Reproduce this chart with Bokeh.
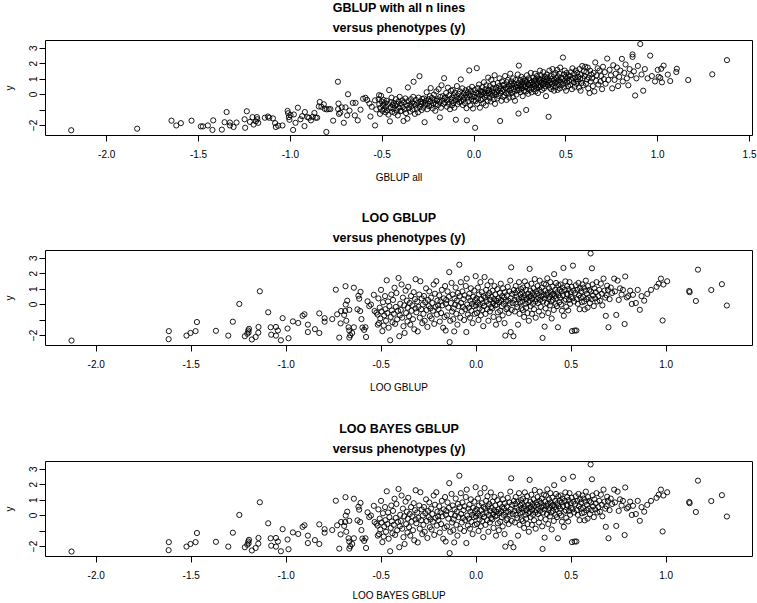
from bokeh.plotting import figure
from bokeh.layouts import column
from bokeh.models import Range1d, FixedTicker, PrintfTickFormatter, Title, LinearAxis
from bokeh.embed import file_html
from bokeh.resources import INLINE

# ---------------- Panel 1: GBLUP with all n lines (x) vs phenotype y ----------------
gblup_all_x = [
    -2.193, -1.834, -1.647, -1.621, -1.596, -1.538, -1.487, -1.476, -1.449, -1.424,
    -1.420, -1.373, -1.358, -1.347, -1.329, -1.329, -1.309, -1.293, -1.249, -1.246,
    -1.237, -1.220, -1.206, -1.200, -1.188, -1.182, -1.180, -1.175, -1.139, -1.122,
    -1.115, -1.095, -1.083, -1.079, -1.066, -1.043, -1.015, -1.012, -1.008, -1.005,
    -0.999, -0.985, -0.981, -0.972, -0.959, -0.945, -0.936, -0.923, -0.921, -0.907,
    -0.898, -0.888, -0.878, -0.869, -0.862, -0.854, -0.845, -0.840, -0.831, -0.818,
    -0.813, -0.804, -0.802, -0.791, -0.782, -0.767, -0.741, -0.740, -0.738, -0.735,
    -0.728, -0.720, -0.709, -0.700, -0.691, -0.686, -0.678, -0.660, -0.649, -0.645,
    -0.633, -0.618, -0.604, -0.591, -0.582, -0.569, -0.564, -0.557, -0.539, -0.539,
    -0.532, -0.517,
    -0.519, -0.516, -0.512, -0.510, -0.506, -0.503, -0.499, -0.496, -0.492, -0.489, -0.486, -0.482,
    -0.479, -0.476, -0.473, -0.469, -0.466, -0.462, -0.458, -0.455, -0.452, -0.449, -0.446, -0.442,
    -0.439, -0.436, -0.432, -0.429, -0.425, -0.422, -0.418, -0.415, -0.411, -0.408, -0.405, -0.401,
    -0.398, -0.395, -0.391, -0.388, -0.384, -0.381, -0.377, -0.374, -0.370, -0.367, -0.363, -0.360,
    -0.358, -0.355, -0.351, -0.348, -0.344, -0.341, -0.337, -0.334, -0.331, -0.329, -0.325, -0.322,
    -0.319, -0.316, -0.312, -0.309, -0.305, -0.302, -0.297, -0.295, -0.291, -0.288, -0.285, -0.282,
    -0.279, -0.276, -0.272, -0.269, -0.266, -0.262, -0.258, -0.255, -0.251, -0.248, -0.245, -0.241,
    -0.239, -0.236, -0.232, -0.229, -0.225, -0.222, -0.218, -0.215, -0.211, -0.208, -0.205, -0.202,
    -0.199, -0.196, -0.193, -0.189, -0.186, -0.184, -0.180, -0.177, -0.173, -0.170, -0.166, -0.163, -0.161,
    -0.158, -0.155, -0.152, -0.148, -0.145, -0.142, -0.138, -0.135, -0.131, -0.128, -0.125, -0.122, -0.120,
    -0.119, -0.116, -0.113, -0.110, -0.107, -0.104, -0.101, -0.099, -0.096, -0.093, -0.090, -0.087, -0.084, -0.081,
    -0.079, -0.076, -0.072, -0.070, -0.067, -0.064, -0.061, -0.058, -0.055, -0.052, -0.049, -0.046, -0.043, -0.041,
    -0.039, -0.037, -0.034, -0.031, -0.028, -0.026, -0.023, -0.020, -0.017, -0.014, -0.011, -0.009, -0.006, -0.004, -0.002,
    0.002, 0.004, 0.006, 0.009, 0.012, 0.015, 0.017, 0.020, 0.022, 0.025, 0.027, 0.030, 0.032, 0.035, 0.037, 0.039,
    0.041, 0.044, 0.046, 0.049, 0.051, 0.054, 0.057, 0.059, 0.062, 0.064, 0.067, 0.069, 0.072, 0.074, 0.077, 0.079,
    0.081, 0.084, 0.086, 0.089, 0.091, 0.094, 0.097, 0.099, 0.102, 0.104, 0.107, 0.109, 0.112, 0.114, 0.117, 0.119,
    0.121, 0.124, 0.126, 0.129, 0.131, 0.134, 0.137, 0.139, 0.142, 0.144, 0.147, 0.149, 0.152, 0.154, 0.157, 0.159,
    0.161, 0.164, 0.166, 0.169, 0.171, 0.174, 0.177, 0.179, 0.182, 0.184, 0.187, 0.189, 0.192, 0.194, 0.197, 0.199,
    0.201, 0.203, 0.206, 0.208, 0.211, 0.213, 0.216, 0.218, 0.221, 0.223, 0.226, 0.228, 0.231, 0.233, 0.236, 0.238, 0.239,
    0.241, 0.242, 0.244, 0.246, 0.248, 0.251, 0.253, 0.255, 0.258, 0.260, 0.262, 0.265, 0.267, 0.269, 0.272, 0.274, 0.276, 0.279,
    0.281, 0.283, 0.284, 0.286, 0.288, 0.291, 0.293, 0.295, 0.297, 0.300, 0.302, 0.304, 0.307, 0.309, 0.311, 0.314, 0.316, 0.318,
    0.321, 0.323, 0.325, 0.327, 0.330, 0.332, 0.334, 0.336, 0.339, 0.341, 0.343, 0.345, 0.348, 0.350, 0.352, 0.354, 0.357, 0.359,
    0.361, 0.363, 0.365, 0.368, 0.370, 0.372, 0.374, 0.377, 0.379, 0.381, 0.383, 0.386, 0.388, 0.390, 0.392, 0.395, 0.397, 0.399,
    0.401, 0.403, 0.406, 0.408, 0.410, 0.413, 0.415, 0.417, 0.420, 0.422, 0.424, 0.427, 0.429, 0.431, 0.434, 0.436, 0.438,
    0.441, 0.443, 0.446, 0.448, 0.450, 0.453, 0.455, 0.457, 0.460, 0.462, 0.465, 0.467, 0.469, 0.472, 0.474, 0.477,
    0.481, 0.484, 0.486, 0.489, 0.491, 0.494, 0.496, 0.499, 0.501, 0.504, 0.507, 0.509, 0.512, 0.514, 0.517,
    0.521, 0.524, 0.527, 0.530, 0.533, 0.536, 0.539, 0.542, 0.545, 0.548, 0.551, 0.554, 0.557, 0.559,
    0.562, 0.565, 0.568, 0.571, 0.574, 0.577, 0.580, 0.583, 0.586, 0.589, 0.592, 0.595, 0.598,
    0.602, 0.605, 0.609, 0.612, 0.615, 0.619, 0.622, 0.625, 0.629, 0.632, 0.635, 0.638,
    0.643, 0.647, 0.651, 0.655, 0.660, 0.664, 0.668, 0.673, 0.677,
    0.683, 0.688, 0.692, 0.697, 0.702, 0.707, 0.712, 0.716,
    0.725, 0.731, 0.738, 0.745, 0.752, 0.758, 0.765, 0.771, 0.778, 0.784,
    0.790, 0.797, 0.805, 0.810, 0.818, 0.825, 0.832, 0.840, 0.847, 0.855,
    0.863, 0.863, 0.870, 0.877, 0.884, 0.892, 0.905, 0.912, 0.921, 0.930,
    0.945, 0.959, 0.968, 0.985, 1.000, 1.005, 1.014, 1.019, 1.023, 1.032,
    1.055, 1.068, 1.101, 1.104, 1.166, 1.297, 1.377]
gblup_all_y = [
    -2.31, -2.21, -1.69, -2.00, -1.85, -1.69, -2.06, -2.06, -2.00, -2.29,
    -1.67, -2.27, -1.79, -1.13, -1.81, -2.00, -2.10, -1.81, -1.60, -2.15,
    -1.08, -1.77, -1.46, -1.94, -1.73, -1.46, -1.60, -1.83, -1.50, -1.42,
    -1.50, -1.54, -1.85, -2.10, -2.02, -2.00, -1.06, -1.21, -1.46, -1.63,
    -1.33, -2.29, -1.29, -1.83, -0.85, -1.60, -1.40, -2.04, -1.13, -1.46,
    -1.50, -1.67, -1.44, -1.19, -1.50, -1.50, -0.77, -0.48, -0.79, -0.63,
    -0.92, -2.42, -0.96, -0.94, -0.94, -1.69, 0.83, -0.94, -0.58, -1.25,
    -1.17, -0.83, -1.83, -0.83, -1.35, 0.02, -1.04, -0.54, -1.35, -0.54,
    -1.67, -0.98, -0.27, -0.21, -0.35, -0.58, -1.42, -0.79, -0.375, -2.00,
    -0.96, -0.04,
    -0.30, -0.62, -1.25, -0.85, -0.08, -0.45, -1.05, -0.70, -0.35, -0.95, -0.55, -1.15,
    -0.78, -0.40, -1.02, -0.60, -1.30, 0.29, -1.73, -0.88, -0.50, -0.20, -1.12, -0.68,
    -0.92, -0.55, -1.18, -0.72, -0.30, -1.00, -0.62, -1.35, -0.45, -0.85, -0.15, -1.08,
    -0.60, -1.05, -0.38, -0.82, -1.71, -0.50, -0.95, -0.25, -1.20, -0.70, -1.56, 0.46,
    -0.42, -0.88, -0.65, -1.10, -0.30, -0.75, -0.52, -0.98, -0.15, 0.83, -0.60, -1.25,
    -0.70, -0.35, -0.92, -0.55, -1.15, -0.20, 1.19, -0.80, -0.45, -0.62, -1.00, -0.28,
    -0.50, -0.85, -0.25, -1.79, -0.65, -0.40, 0.15, -0.95, -0.58, -0.30, -0.75, -0.10,
    -0.45, 0.42, -0.70, -0.22, -0.90, -0.55, 0.00, -0.35, -1.05, -0.62, 0.20, -0.40,
    -0.30, -0.68, 0.35, -0.48, -1.48, -0.15, -0.85, 0.60, -0.40, -0.10, -0.60, 1.06, -0.25,
    -0.52, -0.18, 0.10, -0.78, -0.35, 0.45, -0.60, -0.05, -0.95, -0.28, 0.25, -0.45, -0.70,
    -0.20, 0.30, -0.55, -0.05, -0.85, 0.12, -0.38, -1.63, -0.15, 0.55, -0.62, -0.30, 0.05, -0.48,
    -0.25, 0.20, 0.98, -0.45, -0.10, 0.40, -0.68, -0.32, 0.08, -0.15, -0.55, 0.28, -0.02, -0.88,
    -1.67, -0.20, 0.15, -0.45, 0.35, 1.56, -0.05, -0.70, 0.22, -0.30, 0.50, -0.12, -0.90, 0.05, -0.40,
    -0.15, 0.30, -2.15, -0.42, 0.10, 1.71, -0.60, 0.42, -0.25, 0.05, 0.65, -0.05, -0.85, 0.25, -0.35, 0.15,
    0.00, 0.48, -0.30, 0.18, -0.55, 0.80, 0.08, -0.18, 0.35, -0.70, 0.60, -0.05, 0.22, -0.40, 1.10, 0.10,
    0.30, -0.20, 0.55, 0.05, -0.45, 0.95, 0.20, -0.05, 0.40, 0.70, -0.30, 0.12, 1.25, -0.60, 0.35, 0.00,
    0.45, 0.15, -0.25, 0.75, 0.28, -0.08, 0.55, 1.05, -1.71, 0.10, 0.40, -0.40, 0.85, 0.22, 0.60, -0.15,
    0.30, 0.65, -0.05, 1.20, 0.45, 0.10, -0.35, 0.80, 0.38, 0.95, 0.05, 0.55, -0.20, 0.25, 1.35, 0.70,
    0.40, 0.85, 0.10, 0.60, -0.15, 1.05, 0.35, 0.70, 0.20, -0.40, 0.50, 0.95, 0.00, 0.62, 0.28, 1.30, 0.45,
    0.75, -1.23, 1.875, 0.30, 0.55, 0.95, 0.15, 0.65, 1.15, 0.40, 0.80, -0.10, 0.58, 1.00, 0.25, 0.72, 0.48, 0.90,
    0.55, 0.20, -1.00, 0.85, 1.25, 0.40, 0.68, 0.05, 1.05, 0.60, 0.30, 0.92, 0.75, 1.40, 0.45, 0.15, 0.82, 0.62,
    0.70, 1.10, 0.35, 0.88, 0.55, 1.35, 0.20, 0.98, 0.65, 0.42, 1.20, 0.80, 0.10, 0.60, 1.02, 0.48, 0.85, 1.55,
    0.95, 0.50, 1.25, 0.75, 0.30, 1.05, 0.62, 1.45, 0.88, 0.40, 0.70, 1.15, 0.55, 0.98, -0.10, 0.80, 1.30, 0.65,
    1.10, 0.60, -1.44, 0.90, 1.55, 0.45, 0.78, 1.20, 0.35, 1.00, 0.70, 1.65, 0.52, 0.88, 1.30, 0.25, 0.95,
    0.72, 1.40, 0.50, 1.05, 0.85, 1.60, 0.30, 1.18, 0.65, 0.95, 1.35, 0.40, 1.75, 0.80, 1.10, 0.60,
    1.00, 2.40, 0.70, 1.30, 0.45, 1.55, 0.90, 1.15, 0.25, 1.40, 0.78, 1.05, 0.55, 1.25, 0.88,
    1.20, 0.62, 1.45, 0.95, 0.35, 1.70, 1.05, 0.80, 1.35, 0.50, 1.10, 1.55, 0.70, 0.98,
    1.40, 0.85, 1.15, 0.45, 1.65, 1.00, 0.25, 1.30, 0.75, 1.85, 1.05, 0.60, 1.50,
    1.20, 1.80, 0.70, 1.45, 0.98, 1.75, 0.40, 1.10, 0.10, 1.55, 0.85, 1.30,
    1.05, 0.55, 1.40, 0.20, 2.08, 0.90, 1.25, 1.70, 0.65,
    1.55, 0.85, 1.20, 0.35, 1.80, 1.00, 1.45, 0.70,
    2.33, 0.95, 1.60, 1.25, 0.40, 1.90, 0.95, 1.35, 1.75, 0.55,
    1.15, 1.55, 2.31, 0.85, 1.40, 1.95, 1.05, 0.60, 1.65, 1.25,
    2.60, 2.44, 1.50, -0.06, 1.05, 1.85, 3.27, 1.30, 0.25, 1.65,
    1.05, 2.52, 1.20, 0.85, 1.60, 1.15, 1.08, 1.67, 0.79, 1.875,
    1.29, 0.875, 1.46, 1.67, 0.94, 1.31, 2.23]

# ---------------- Panel 2: LOO GBLUP (x) vs phenotype y ----------------
loo_x = [
    -2.130, -1.618, -1.619, -1.525, -1.504, -1.477, -1.470, -1.370, -1.305, -1.281,
    -1.247, -1.218, -1.205, -1.200, -1.198, -1.196, -1.181, -1.161, -1.147, -1.146,
    -1.139, -1.095, -1.082, -1.079, -1.054, -1.054, -1.044, -1.028, -1.019, -0.993,
    -0.988, -0.965, -0.937, -0.914, -0.904, -0.886, -0.886, -0.849, -0.826, -0.826,
    -0.798, -0.798, -0.758, -0.739, -0.732, -0.721, -0.714, -0.711, -0.695, -0.690,
    -0.687, -0.684, -0.688, -0.679, -0.672, -0.668, -0.668, -0.663, -0.668, -0.653,
    -0.644, -0.644, -0.625, -0.620, -0.616, -0.611, -0.604, -0.599, -0.590, -0.609,
    -0.583, -0.580, -0.572, -0.563, -0.554, -0.539, -0.535, -0.525, -0.518,
    -0.519, -0.515, -0.512, -0.508, -0.505, -0.501, -0.498, -0.494, -0.491, -0.487, -0.484, -0.480,
    -0.478, -0.475, -0.471, -0.468, -0.464, -0.461, -0.457, -0.453, -0.450, -0.447, -0.444, -0.441,
    -0.438, -0.434, -0.430, -0.427, -0.423, -0.420, -0.416, -0.412, -0.409, -0.405, -0.402, -0.400,
    -0.397, -0.393, -0.390, -0.386, -0.383, -0.379, -0.377, -0.372, -0.369, -0.365, -0.362, -0.361,
    -0.358, -0.354, -0.350, -0.347, -0.343, -0.340, -0.336, -0.333, -0.329, -0.326, -0.322, -0.320,
    -0.319, -0.315, -0.311, -0.308, -0.304, -0.300, -0.297, -0.294, -0.290, -0.287, -0.284, -0.281,
    -0.278, -0.275, -0.271, -0.268, -0.264, -0.261, -0.257, -0.254, -0.250, -0.247, -0.244, -0.241,
    -0.238, -0.235, -0.231, -0.228, -0.224, -0.221, -0.217, -0.214, -0.210, -0.207, -0.204, -0.201,
    -0.199, -0.195, -0.192, -0.188, -0.185, -0.181, -0.178, -0.174, -0.171, -0.167, -0.164, -0.161, -0.160,
    -0.158, -0.154, -0.151, -0.147, -0.144, -0.142, -0.140, -0.137, -0.133, -0.130, -0.127, -0.124, -0.121,
    -0.119, -0.116, -0.114, -0.111, -0.108, -0.105, -0.102, -0.099, -0.096, -0.093, -0.089, -0.087, -0.084, -0.081,
    -0.079, -0.076, -0.073, -0.070, -0.067, -0.064, -0.061, -0.058, -0.055, -0.052, -0.050, -0.047, -0.044, -0.041,
    -0.039, -0.036, -0.033, -0.031, -0.028, -0.025, -0.022, -0.019, -0.016, -0.013, -0.010, -0.008, -0.005, -0.003, -0.001,
    0.002, 0.004, 0.007, 0.009, 0.012, 0.014, 0.017, 0.019, 0.022, 0.024, 0.027, 0.029, 0.032, 0.034, 0.037, 0.039,
    0.041, 0.044, 0.047, 0.049, 0.052, 0.054, 0.057, 0.059, 0.062, 0.064, 0.067, 0.069, 0.072, 0.074, 0.077, 0.079,
    0.081, 0.084, 0.086, 0.089, 0.091, 0.094, 0.096, 0.099, 0.101, 0.104, 0.106, 0.109, 0.111, 0.114, 0.116, 0.119,
    0.121, 0.124, 0.126, 0.129, 0.131, 0.134, 0.136, 0.139, 0.141, 0.144, 0.146, 0.149, 0.151, 0.153, 0.156, 0.159,
    0.161, 0.164, 0.166, 0.169, 0.171, 0.174, 0.176, 0.179, 0.181, 0.182, 0.184, 0.187, 0.189, 0.192, 0.196, 0.199,
    0.201, 0.203, 0.206, 0.208, 0.211, 0.213, 0.216, 0.218, 0.220, 0.223, 0.225, 0.228, 0.230, 0.233, 0.235, 0.237, 0.239,
    0.241, 0.243, 0.245, 0.247, 0.250, 0.252, 0.254, 0.256, 0.259, 0.261, 0.263, 0.265, 0.268, 0.270, 0.272, 0.274, 0.277, 0.279,
    0.281, 0.282, 0.284, 0.286, 0.288, 0.290, 0.293, 0.295, 0.297, 0.299, 0.302, 0.304, 0.306, 0.308, 0.311, 0.313, 0.315, 0.318,
    0.321, 0.323, 0.325, 0.327, 0.330, 0.332, 0.334, 0.336, 0.339, 0.341, 0.343, 0.345, 0.347, 0.349, 0.352, 0.355, 0.357, 0.360,
    0.361, 0.363, 0.365, 0.367, 0.370, 0.372, 0.374, 0.376, 0.379, 0.381, 0.383, 0.385, 0.388, 0.390, 0.392, 0.394, 0.397, 0.399,
    0.401, 0.403, 0.406, 0.408, 0.410, 0.413, 0.415, 0.418, 0.420, 0.422, 0.425, 0.427, 0.430, 0.432, 0.434, 0.437, 0.439,
    0.441, 0.444, 0.446, 0.449, 0.451, 0.454, 0.456, 0.459, 0.461, 0.464, 0.466, 0.469, 0.471, 0.474, 0.476, 0.479,
    0.481, 0.484, 0.486, 0.489, 0.491, 0.494, 0.497, 0.499, 0.502, 0.504, 0.507, 0.509, 0.512, 0.515, 0.518,
    0.521, 0.524, 0.527, 0.530, 0.532, 0.535, 0.538, 0.541, 0.544, 0.547, 0.550, 0.553, 0.556, 0.559,
    0.562, 0.565, 0.568, 0.571, 0.574, 0.577, 0.580, 0.583, 0.586, 0.589, 0.592, 0.595, 0.598,
    0.602, 0.604, 0.607, 0.609, 0.612, 0.615, 0.619, 0.622, 0.626, 0.629, 0.633, 0.637,
    0.643, 0.647, 0.651, 0.656, 0.660, 0.664, 0.670, 0.675, 0.679,
    0.682, 0.686, 0.689, 0.693, 0.696, 0.702, 0.708, 0.715,
    0.726, 0.730, 0.737, 0.744, 0.750, 0.757, 0.765, 0.772, 0.781, 0.784,
    0.793, 0.800, 0.810, 0.819, 0.825, 0.840, 0.850, 0.861, 0.870, 0.884,
    0.900, 0.920, 0.949, 0.960, 0.972, 0.981, 0.985, 1.005, 1.121, 1.123,
    1.156, 1.167, 1.237, 1.293, 1.319]
loo_y = [
    -2.33, -1.72, -2.24, -2.01, -1.84, -1.72, -1.13, -1.70, -2.01, -1.11,
    0.04, -2.05, -1.89, -1.68, -1.80, -1.57, -2.26, -2.10, -1.82, -1.45,
    0.86, -0.50, -1.47, -1.95, -1.45, -2.01, -1.68, -2.31, -0.88, -1.55,
    -2.18, -1.09, -1.19, -0.73, -0.63, -1.30, -1.78, -1.59, -0.57, -1.84,
    -0.88, -1.11, -0.94, 0.96, -0.63, -2.14, -1.22, -0.42, -0.67, -0.42,
    0.00, -1.05, 1.19, 0.25, -1.47, -1.68, -0.34, -1.99, -2.14, -1.84,
    1.09, -1.47, -0.31, 0.57, 0.38, -0.42, -0.94, -1.49, -1.64, 0.82,
    -1.47, -2.10, 0.21, -0.10, 0.00, 0.63, -0.42, -0.52, -1.30,
    -0.65, 0.40, -1.20, -0.20, -0.90, 0.95, -0.45, -1.72, 0.15, -1.36, -0.70, 0.55,
    -0.30, -1.05, 1.57, -0.55, 0.20, -1.50, -0.10, -2.31, -0.80, 0.65, -0.38, -1.15,
    0.30, -0.60, 1.09, -1.25, -0.15, 0.75, -0.95, -0.40, 1.72, -2.05, -0.70, 0.05,
    -0.35, 1.30, -0.85, 0.45, -1.40, -0.05, -1.84, 0.90, -0.55, 0.25, -1.10, -0.20,
    1.15, -0.75, 0.10, -1.30, 0.55, -0.40, -0.05, -0.95, 0.80, -1.60, 0.35, -0.25,
    1.64, -0.50, 0.20, -1.74, -0.15, 0.65, -0.85, 1.51, -0.30, 0.40, -1.20, 0.00,
    -0.60, 0.55, -1.05, 0.15, 1.05, -0.35, -1.45, 0.30, -0.10, 0.85, -0.75, -0.25,
    0.45, -0.90, 0.10, -0.40, 1.30, -1.25, 0.70, -0.15, 1.51, -0.65, 0.25, -0.05,
    -0.30, 0.60, -1.10, 0.20, -0.55, 0.95, -0.05, -1.50, 0.40, -0.80, 1.20, -1.68, 0.05,
    0.30, -0.70, 0.85, -0.20, 0.50, 2.10, -2.43, -1.05, 0.10, 1.40, -0.45, 0.65, -0.95,
    -0.25, -1.74, 0.40, 0.00, 1.10, -0.60, 0.25, -1.30, 0.75, -0.10, 2.58, 0.55, -0.85, 1.45,
    0.10, -0.45, 0.85, -0.15, 0.35, -1.00, 0.60, -0.30, 1.20, -1.78, 1.68, 0.00, -0.65, 0.45,
    -0.20, 0.70, -0.85, 0.25, 1.05, -0.40, 0.05, -1.20, 0.50, -0.10, 0.90, -0.60, 0.30, 1.84, -0.05,
    0.40, -0.55, 0.15, 1.10, -1.00, 0.65, -0.25, 0.00, 1.45, -0.70, 0.35, 0.80, -0.35, 0.10, -1.40, 0.55,
    -0.10, 1.78, 0.45, -0.60, 0.95, 0.20, -0.30, 1.25, 0.60, -1.05, 0.05, 0.75, -0.45, 0.30, 1.50, -0.15,
    0.50, -0.25, 0.90, 0.10, -0.80, 0.35, 1.20, -0.05, 0.65, -1.30, 0.25, 0.00, 1.00, -0.50, 0.40, -0.95,
    0.15, 0.75, -0.40, 1.35, 0.30, -0.10, 0.55, -0.70, 1.05, 0.05, 0.45, -1.20, 0.80, -2.01, 0.20, -0.30,
    0.60, -0.20, 1.15, 0.25, -0.55, 0.85, 0.05, 1.55, -1.78, 0.40, 2.41, -0.35, 0.70, 0.10, -2.05, 0.95,
    0.30, -0.45, 0.75, 1.20, 0.05, 0.50, -0.15, 0.90, -1.30, 0.35, 1.45, -0.60, 0.15, 0.65, 1.00, -0.25, 0.45,
    0.80, 0.20, -0.35, 1.10, 0.45, -0.80, 0.60, 1.50, 0.05, 0.95, -0.20, 0.35, 1.25, -0.55, 0.70, 0.15, -1.05, 0.50,
    2.31, 0.25, 0.90, -0.10, 0.55, 1.35, -0.60, 0.40, 0.75, 0.05, 1.05, -0.30, 0.60, 1.65, 0.20, -0.85, 0.85, 0.35,
    0.70, 1.20, 0.10, 0.45, -0.45, 0.95, 1.55, 0.30, -0.15, 0.80, 0.55, 1.10, -0.70, -2.16, 0.20, 0.65, 1.35, -1.43,
    0.40, 0.90, -0.25, 1.30, 0.60, 0.10, 1.70, 0.75, -0.55, 0.35, 1.05, 0.50, -0.05, 1.45, 0.85, 0.20, -0.90, 0.65,
    1.15, 0.30, 0.70, -0.35, 1.97, 0.55, 0.95, 0.05, 1.40, 0.40, -0.10, 0.80, -1.47, 1.25, 0.60, 0.15, 0.95,
    0.45, 1.30, 0.00, 0.85, -0.40, 1.10, 0.60, 2.37, -0.73, 0.25, 0.95, 1.50, 0.35, -0.15, 0.70, 1.20,
    0.65, -0.38, 1.00, 0.30, 1.45, 0.05, 0.80, 0.50, 1.15, -1.72, 0.40, 2.52, 0.90, 0.20, -1.68,
    0.75, 1.25, -1.68, 0.35, 0.95, 0.05, 1.40, 0.60, -0.30, 1.05, 0.45, 0.85, 0.15, 1.30,
    0.50, 1.10, 0.20, -0.31, 0.90, 1.55, 0.35, 0.70, -0.20, 1.20, 0.45, 0.95, 0.10,
    3.31, 0.85, 0.35, 2.35, 1.30, 0.60, -0.10, 1.05, 0.40, 0.80, 1.45, 0.20,
    0.55, 0.95, 0.25, 1.35, 0.70, -0.05, 1.68, 0.90, 0.45,
    -0.73, 0.60, 1.22, 0.95, -1.47, 0.35, 1.10, 0.75,
    1.68, 0.85, -0.67, 1.55, 0.30, 1.05, 0.65, 0.95, -1.26, 1.82,
    0.46, 0.55, 0.90, 0.04, 0.63, 0.10, 0.95, -0.34, 0.55, 0.25,
    0.69, 0.95, 1.15, 1.35, 1.68, -1.03, 1.30, 1.51, 0.88, 0.80,
    0.23, 2.26, 0.94, 1.32, -0.06]

# ---------------- Panel 3: LOO BAYES GBLUP (x) vs phenotype y ----------------
bayes_x = list(loo_x)
bayes_y = list(loo_y)

FONT = "Liberation Sans"
Y_TICKS = [-2, -1, 0, 1, 2, 3]
X_TICKS = [-2.0, -1.5, -1.0, -0.5, 0.0, 0.5, 1.0, 1.5]
Y_RANGE = (-2.65, 3.5)


def style_axis(ax):
    ax.axis_line_color = None
    ax.major_tick_line_color = "black"
    ax.major_tick_out = 6
    ax.major_tick_in = 0
    ax.minor_tick_line_color = None
    ax.major_label_text_font = FONT
    ax.major_label_text_font_size = "10px"
    ax.major_label_text_color = "black"
    ax.axis_label_text_font = FONT
    ax.axis_label_text_font_size = "10px"
    ax.axis_label_text_font_style = "normal"
    ax.axis_label_text_color = "black"


def panel(xs, ys, xr, main, xlabel, height, bottom, lab_standoff, axlab_standoff):
    n = min(len(xs), len(ys))
    p = figure(width=757, height=height, title=None,
               x_range=Range1d(*xr), y_range=Range1d(*Y_RANGE),
               output_backend="svg", toolbar_location=None,
               x_axis_location=None, y_axis_location=None,
               min_border_left=45, min_border_right=5,
               min_border_top=37, min_border_bottom=bottom)

    # bottom x axis
    xax = LinearAxis(ticker=FixedTicker(ticks=X_TICKS),
                     formatter=PrintfTickFormatter(format="%.1f"))
    style_axis(xax)
    xax.axis_label = xlabel
    xax.major_label_standoff = lab_standoff
    xax.axis_label_standoff = axlab_standoff
    p.add_layout(xax, "below")

    # left y axis
    yax = LinearAxis(ticker=FixedTicker(ticks=Y_TICKS))
    style_axis(yax)
    yax.major_label_overrides = {-1: ""}
    yax.major_label_orientation = "vertical"
    yax.axis_label = "y"
    yax.major_label_standoff = 2
    yax.axis_label_standoff = 12
    p.add_layout(yax, "left")

    # two-line bold title (first added sits closest to the frame)
    p.add_layout(Title(text="versus phenotypes (y)", align="center", text_font=FONT,
                       text_font_size="12.5px", text_font_style="bold",
                       text_color="black", text_line_height=1.0,
                       vertical_align="top", standoff=8), "above")
    p.add_layout(Title(text=main, align="center", text_font=FONT,
                       text_font_size="12.5px", text_font_style="bold",
                       text_color="black", text_line_height=1.0,
                       vertical_align="top", standoff=0), "above")

    p.scatter(xs[:n], ys[:n], marker="circle", size=5.2, fill_color=None,
              line_color="black", line_width=0.9)
    p.grid.visible = False
    p.outline_line_color = "black"
    p.outline_line_width = 1
    p.background_fill_color = "white"
    p.border_fill_color = "white"
    return p


p1 = panel(gblup_all_x, gblup_all_y, (-2.333, 1.516), "GBLUP with all n lines", "GBLUP all",
           210, 75, 8, 11)
p2 = panel(loo_x, loo_y, (-2.267, 1.454), "LOO GBLUP", "LOO GBLUP",
           211, 76, 8, 11)
p3 = panel(bayes_x, bayes_y, (-2.267, 1.454), "LOO BAYES GBLUP", "LOO BAYES GBLUP",
           182, 47, 8, 8)

layout = column(p1, p2, p3, spacing=0)
open("out.html", "w").write(file_html(layout, INLINE))
